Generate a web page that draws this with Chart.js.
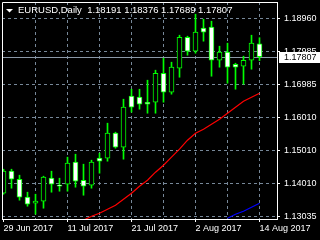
<!DOCTYPE html>
<html>
<head>
<meta charset="utf-8">
<script src="https://cdn.jsdelivr.net/npm/chart.js@4.4.1/dist/chart.umd.min.js"></script>
<style>
  html, body { margin: 0; padding: 0; background: #000; }
  canvas { display: block; }
</style>
</head>
<body>
<canvas id="eurusdChart" width="320" height="240"></canvas>
<script>
const symbolTitle = 'EURUSD,Daily';

// x positions are bar indexes, one per trading day
const xTickIdx = [0, 4, 8, 12, 16, 20, 24, 28, 32];
const xTickLabels = ['29 Jun 2017', '', '11 Jul 2017', '', '21 Jul 2017', '', '2 Aug 2017', '', '14 Aug 2017'];

const yTickValues = [1.18960, 1.17973, 1.16985, 1.15998, 1.15010, 1.14023, 1.13035];
const yTickLabels = ['1.18960', '1.17985', '1.16985', '1.16010', '1.15010', '1.14010', '1.13035'];

const opens = [1.13723, 1.14382, 1.14142, 1.13604, 1.13424, 1.13484, 1.14172, 1.13963, 1.13993, 1.14651,
  1.14112, 1.13963, 1.14771, 1.14771, 1.15519, 1.15100, 1.16626, 1.16596, 1.16446, 1.16446,
  1.17314, 1.16746, 1.17464, 1.18391, 1.17973, 1.18661, 1.18691, 1.17703, 1.17943, 1.17583,
  1.17524, 1.17703, 1.18191];
const highs = [1.14441, 1.14441, 1.14262, 1.13753, 1.13693, 1.14232, 1.14382, 1.14172, 1.14801, 1.14890,
  1.14591, 1.14711, 1.14920, 1.15818, 1.15549, 1.16536, 1.16835, 1.16835, 1.17105, 1.17404,
  1.17763, 1.17643, 1.18451, 1.18421, 1.19080, 1.18930, 1.18870, 1.18122, 1.18212, 1.17613,
  1.17823, 1.18451, 1.18376];
const lows = [1.13693, 1.13873, 1.13514, 1.13334, 1.13095, 1.13274, 1.13753, 1.13783, 1.13783, 1.13903,
  1.13663, 1.13873, 1.14322, 1.14681, 1.15070, 1.14741, 1.16147, 1.16237, 1.16117, 1.16117,
  1.16446, 1.16686, 1.17194, 1.17853, 1.17913, 1.18272, 1.17224, 1.17494, 1.17015, 1.16835,
  1.16985, 1.17434, 1.17689];
const closes = [1.14382, 1.14142, 1.13604, 1.13394, 1.13484, 1.14202, 1.13993, 1.13933, 1.14621, 1.14082,
  1.13933, 1.14651, 1.14681, 1.15519, 1.15100, 1.16297, 1.16297, 1.16387, 1.16387, 1.17314,
  1.16746, 1.17494, 1.18391, 1.17973, 1.18541, 1.18541, 1.17703, 1.17943, 1.17494, 1.17494,
  1.17703, 1.18212, 1.17807];

const maRed = [null, null, null, null, null, null, null, null, null, null,
  1.12915, 1.13035, 1.13125, 1.13245, 1.13364, 1.13544, 1.13723, 1.13933, 1.14112, 1.14352,
  1.14561, 1.14801, 1.15040, 1.15309, 1.15519, 1.15638, 1.15788, 1.15938, 1.16117, 1.16297,
  1.16476, 1.16596, 1.16716];
const maBlue = [null, null, null, null, null, null, null, null, null, null,
  null, null, null, null, null, null, null, null, null, null,
  null, null, null, null, null, null, null, null, 1.12975, 1.13095,
  1.13185, 1.13304, 1.13424];

const FG = '#ffffff';
const GRID = '#778899';
const CANDLE = '#00ff00';
const FONT = { family: 'Liberation Sans', size: 9 };

// price per pixel, fixed by the grid spacing (33px per step)
const pxStep = (yTickValues[0] - yTickValues[6]) / 198;
const yMax = yTickValues[0] + 16.2 * pxStep;
const yMin = yMax - 217 * pxStep;

const last = closes.length - 1;

const mtChrome = {
  id: 'mtChrome',
  beforeDatasetsDraw(chart) {
    const { ctx, chartArea: a, scales: { y } } = chart;
    const py = Math.round(y.getPixelForValue(closes[last])) + 0.5;
    ctx.save();
    ctx.strokeStyle = '#8a98a8';
    ctx.lineWidth = 1;
    ctx.beginPath();
    ctx.moveTo(a.left, py);
    ctx.lineTo(a.right, py);
    ctx.stroke();
    ctx.restore();
  },
  afterDraw(chart) {
    const { ctx, chartArea: a, scales: { y } } = chart;
    ctx.save();
    // left + top frame (right/bottom come from the axes)
    ctx.strokeStyle = FG;
    ctx.lineWidth = 1;
    ctx.beginPath();
    ctx.moveTo(a.left + 0.5, a.bottom);
    ctx.lineTo(a.left + 0.5, a.top + 0.5);
    ctx.lineTo(a.right, a.top + 0.5);
    ctx.stroke();

    // header
    ctx.fillStyle = FG;
    ctx.beginPath();
    ctx.moveTo(6, 9);
    ctx.lineTo(13, 9);
    ctx.lineTo(9.5, 12.5);
    ctx.closePath();
    ctx.fill();
    ctx.font = '9.5px "Liberation Sans"';
    ctx.textBaseline = 'middle';
    ctx.textAlign = 'left';
    const head = symbolTitle + '  ' + [opens[last], highs[last], lows[last], closes[last]].map(v => v.toFixed(5)).join(' ');
    ctx.fillText(head, 18, 10.5);

    // current price box
    const row = Math.round(y.getPixelForValue(closes[last]));
    ctx.fillStyle = FG;
    ctx.fillRect(a.right + 2, row - 5, 320 - a.right - 2, 11);
    ctx.fillStyle = '#000';
    ctx.font = '9px "Liberation Sans"';
    ctx.fillText(closes[last].toFixed(5), a.right + 7, row + 0.5);
    ctx.restore();
  }
};

const idx = opens.map((_, i) => i);

new Chart(document.getElementById('eurusdChart'), {
  type: 'bar',
  data: {
    datasets: [
      {
        type: 'line', label: 'MA red', order: 1,
        data: idx.map(i => ({ x: i, y: maRed[i] })),
        borderColor: '#ff0000', borderWidth: 1.2, pointRadius: 0, tension: 0, clip: 0
      },
      {
        type: 'line', label: 'MA blue', order: 1,
        data: idx.map(i => ({ x: i, y: maBlue[i] })),
        borderColor: '#0000ff', borderWidth: 1.2, pointRadius: 0, tension: 0, clip: 0
      },
      {
        label: 'body', order: 2, grouped: false, clip: 0,
        data: idx.map(i => ({ x: i, y: [opens[i], closes[i]] })),
        backgroundColor: idx.map(i => closes[i] > opens[i] ? '#000000' : '#ffffff'),
        borderColor: CANDLE, borderWidth: 1, borderSkipped: false, barThickness: 5
      },
      {
        label: 'wick', order: 3, grouped: false, clip: 0,
        data: idx.map(i => ({ x: i, y: [lows[i], highs[i]] })),
        backgroundColor: CANDLE, borderWidth: 0, barThickness: 1
      }
    ]
  },
  options: {
    responsive: false,
    animation: false,
    devicePixelRatio: 1,
    layout: { padding: { left: 2, top: 2, right: 0, bottom: 0 } },
    plugins: { legend: { display: false }, tooltip: { enabled: false } },
    scales: {
      x: {
        type: 'linear',
        position: 'bottom',
        offset: false,
        min: -0.1875,
        max: 34.1875,
        afterFit(s) { s.height = 21; s.paddingLeft = 0; s.paddingRight = 0; },
        afterBuildTicks(s) { s.ticks = xTickIdx.map(v => ({ value: v })); },
        ticks: {
          color: FG, font: FONT, autoSkip: false, maxRotation: 0, align: 'start', padding: 1,
          callback: (v, i) => xTickLabels[i]
        },
        grid: {
          offset: false,
          color: ctx => ctx.index === 0 ? 'transparent' : GRID,
          tickColor: ctx => xTickLabels[ctx.index] ? FG : 'transparent',
          tickLength: 3, lineWidth: 1
        },
        border: { color: FG, dash: [3, 3] }
      },
      y: {
        type: 'linear',
        position: 'right',
        min: yMin,
        max: yMax,
        afterFit(s) { s.width = 43; s.paddingTop = 0; s.paddingBottom = 0; },
        afterBuildTicks(s) { s.ticks = yTickValues.map(v => ({ value: v })); },
        ticks: {
          color: FG, font: FONT, autoSkip: false, padding: 4,
          callback: (v, i) => yTickLabels[i]
        },
        grid: { color: GRID, tickColor: FG, tickLength: 3, lineWidth: 1 },
        border: { color: FG, dash: [3, 3] }
      }
    }
  },
  plugins: [mtChrome]
});
</script>
</body>
</html>
